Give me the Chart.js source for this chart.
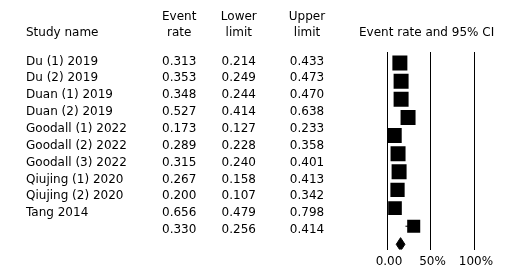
<!DOCTYPE html>
<html>
<head>
<meta charset="utf-8">
<script src="https://cdn.jsdelivr.net/npm/chart.js@4/dist/chart.umd.min.js"></script>
<style>
  html, body { margin: 0; padding: 0; background: #fff; }
  #wrap { position: relative; width: 530px; height: 274px; overflow: hidden; }
  #wrap canvas { position: absolute; left: 0; top: 0; }
  .t { position: absolute; font-family: "DejaVu Sans", Verdana, sans-serif; font-size: 12px; line-height: 14px; color: #000; white-space: nowrap; }
  .c { text-align: center; width: 80px; }
</style>
</head>
<body>
<div id="wrap"><canvas id="chart" width="530" height="274"></canvas></div>
<script>
// ---- data ----
const studies = ["Du (1) 2019", "Du (2) 2019", "Duan (1) 2019", "Duan (2) 2019",
  "Goodall (1) 2022", "Goodall (2) 2022", "Goodall (3) 2022",
  "Qiujing (1) 2020", "Qiujing (2) 2020", "Tang 2014", ""];
const eventRate = ["0.313", "0.353", "0.348", "0.527", "0.173", "0.289", "0.315", "0.267", "0.200", "0.656", "0.330"];
const lowerLimit = ["0.214", "0.249", "0.244", "0.414", "0.127", "0.228", "0.240", "0.158", "0.107", "0.479", "0.256"];
const upperLimit = ["0.433", "0.473", "0.470", "0.638", "0.233", "0.358", "0.401", "0.413", "0.342", "0.798", "0.414"];
// marker positions on the plot's own axis (0 - 100 %), as drawn in the picture
const markerPos = [14.8, 16.2, 16.2, 24.2, 8.3, 12.7, 13.9, 12.1, 9.2, 30.7];
const ciLowPos  = [10.1, 11.7, 11.5, 19.5, 6.0, 10.7, 11.3, 7.4, 5.0, 21.2];
const ciHighPos = [20.4, 22.2, 22.1, 30.0, 11.0, 16.8, 18.8, 19.4, 16.1, 35.0];
const markerWeight = [1, 1, 1, 1, 1, 1, 1, 0.95, 0.91, 0.87];
const summaryPos = 15.6, summaryLow = 10.6, summaryHigh = 20.6;
const tickValues = [0, 50, 100];
const tickLabels = ["0.00", "50%", "100%"];

// ---- table text ----
const wrap = document.getElementById('wrap');
function addText(txt, x, baseline, centered) {
  const d = document.createElement('div');
  d.className = 't' + (centered ? ' c' : '');
  d.textContent = txt;
  d.style.top = (baseline - 11.2) + 'px';
  d.style.left = (centered ? x - 40 : x) + 'px';
  wrap.appendChild(d);
}
const colX = { name: 26, rate: 179.2, lower: 238.8, upper: 307 };
addText("Event", colX.rate, 20, true);
addText("rate", colX.rate, 36.6, true);
addText("Lower", colX.lower, 20, true);
addText("limit", colX.lower, 36.6, true);
addText("Upper", colX.upper, 20, true);
addText("limit", colX.upper, 36.6, true);
addText("Study name", colX.name, 36.6, false);
(function () {
  const d = document.createElement('div');
  d.className = 't';
  d.textContent = "Event rate and 95% CI";
  d.style.top = (36.6 - 11.2) + 'px';
  d.style.left = '359px';
  wrap.appendChild(d);
})();
studies.forEach((s, i) => {
  const b = 64.8 + i * 16.85;
  if (s) addText(s, colX.name, b, false);
  addText(eventRate[i], colX.rate, b, true);
  addText(lowerLimit[i], colX.lower, b, true);
  addText(upperLimit[i], colX.upper, b, true);
});

// ---- chart ----
const datasets = [];
markerPos.forEach((m, i) => {
  datasets.push({
    type: 'scatter', showLine: true, borderColor: '#000', borderWidth: 1,
    pointRadius: 0, data: [{ x: ciLowPos[i], y: i }, { x: ciHighPos[i], y: i }]
  });
});
datasets.push({
  type: 'scatter',
  data: markerPos.map((m, i) => ({ x: m, y: i })),
  pointStyle: 'rect',
  pointRadius: markerWeight.map(w => 10.6 * w),
  pointHoverRadius: markerWeight.map(w => 10.6 * w),
  backgroundColor: '#000', borderWidth: 0
});
const sy = markerPos.length;
datasets.push({
  type: 'scatter', showLine: true, fill: 'shape',
  backgroundColor: '#000', borderColor: '#000', borderWidth: 1, pointRadius: 0,
  data: [{ x: summaryLow, y: sy }, { x: summaryPos, y: sy - 0.37 },
         { x: summaryHigh, y: sy }, { x: summaryPos, y: sy + 0.37 }, { x: summaryLow, y: sy }]
});

new Chart(document.getElementById('chart'), {
  type: 'scatter',
  data: { datasets },
  options: {
    responsive: false, animation: false, events: [],
    layout: { padding: { left: 387, right: 56, top: 52, bottom: 0 } },
    plugins: { legend: { display: false }, tooltip: { enabled: false }, title: { display: false } },
    scales: {
      x: {
        type: 'linear', min: 0, max: 100,
        afterBuildTicks: (s) => { s.ticks = tickValues.map(v => ({ value: v })); },
        grid: { color: '#000', lineWidth: 1, drawTicks: false },
        border: { display: false },
        ticks: {
          color: '#000', padding: 5, labelOffset: 2, maxRotation: 0, autoSkip: false,
          font: { family: 'DejaVu Sans', size: 12 },
          callback: (v, idx) => tickLabels[idx]
        }
      },
      y: { type: 'linear', reverse: true, min: -0.61, max: 10.29, display: false }
    }
  }
});
</script>
</body>
</html>
